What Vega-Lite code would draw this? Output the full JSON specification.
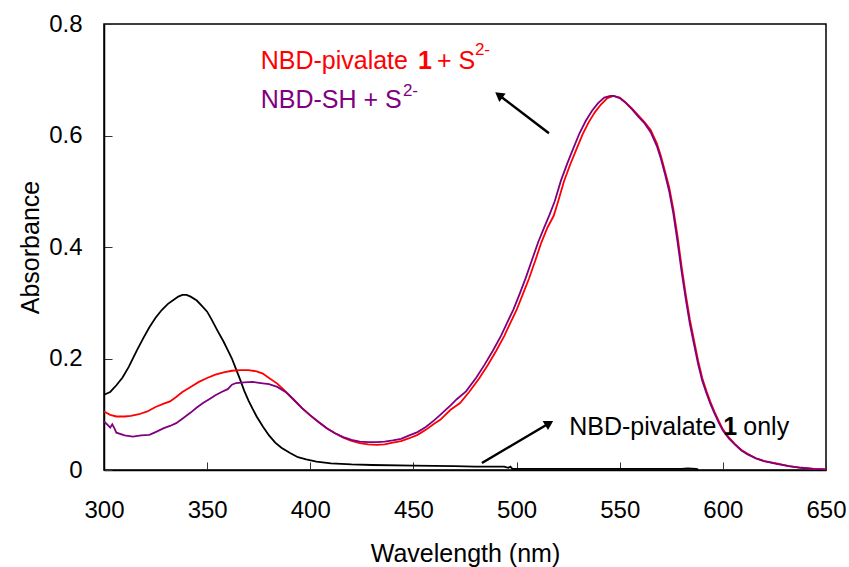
{
  "$schema": "https://vega.github.io/schema/vega-lite/v6.json",
  "width": 722,
  "height": 446,
  "autosize": "none",
  "padding": {"left": 104, "top": 24, "right": 23, "bottom": 97},
  "background": "white",
  "config": {
    "view": {"stroke": "black", "strokeWidth": 1.5},
    "font": "Liberation Sans",
    "axis": {
      "grid": false,
      "labelFlush": false,
      "domainColor": "black",
      "domainWidth": 1.5,
      "tickColor": "#333333",
      "tickWidth": 1,
      "tickSize": -8,
      "labelFont": "Liberation Sans",
      "labelFontSize": 24,
      "labelColor": "black",
      "titleFont": "Liberation Sans",
      "titleFontSize": 25,
      "titleFontWeight": "normal",
      "titleColor": "black"
    }
  },
  "datasets": {
    "curves": [
      {"series": "only", "wl": 300, "a": 0.135}, {"series": "only", "wl": 303, "a": 0.140}, {"series": "only", "wl": 306, "a": 0.152}, {"series": "only", "wl": 309, "a": 0.166}, {"series": "only", "wl": 312, "a": 0.185}, {"series": "only", "wl": 316, "a": 0.215}, {"series": "only", "wl": 319, "a": 0.236}, {"series": "only", "wl": 322, "a": 0.256}, {"series": "only", "wl": 325, "a": 0.273}, {"series": "only", "wl": 328, "a": 0.287}, {"series": "only", "wl": 331, "a": 0.298}, {"series": "only", "wl": 334, "a": 0.306}, {"series": "only", "wl": 336, "a": 0.311}, {"series": "only", "wl": 338, "a": 0.314}, {"series": "only", "wl": 340, "a": 0.314}, {"series": "only", "wl": 342, "a": 0.311}, {"series": "only", "wl": 345, "a": 0.304}, {"series": "only", "wl": 348, "a": 0.292}, {"series": "only", "wl": 350, "a": 0.284}, {"series": "only", "wl": 352, "a": 0.271}, {"series": "only", "wl": 355, "a": 0.250}, {"series": "only", "wl": 358, "a": 0.230}, {"series": "only", "wl": 360, "a": 0.215}, {"series": "only", "wl": 362, "a": 0.200}, {"series": "only", "wl": 364, "a": 0.181}, {"series": "only", "wl": 366, "a": 0.162}, {"series": "only", "wl": 368, "a": 0.142}, {"series": "only", "wl": 370, "a": 0.125}, {"series": "only", "wl": 372, "a": 0.110}, {"series": "only", "wl": 374, "a": 0.096}, {"series": "only", "wl": 377, "a": 0.078}, {"series": "only", "wl": 380, "a": 0.062}, {"series": "only", "wl": 383, "a": 0.049}, {"series": "only", "wl": 386, "a": 0.040}, {"series": "only", "wl": 390, "a": 0.031}, {"series": "only", "wl": 394, "a": 0.023}, {"series": "only", "wl": 398, "a": 0.019}, {"series": "only", "wl": 403, "a": 0.015}, {"series": "only", "wl": 410, "a": 0.012}, {"series": "only", "wl": 420, "a": 0.010}, {"series": "only", "wl": 430, "a": 0.009}, {"series": "only", "wl": 450, "a": 0.008}, {"series": "only", "wl": 470, "a": 0.007}, {"series": "only", "wl": 480, "a": 0.006}, {"series": "only", "wl": 494, "a": 0.006}, {"series": "only", "wl": 496, "a": 0.004}, {"series": "only", "wl": 497, "a": 0.006}, {"series": "only", "wl": 498, "a": 0.002}, {"series": "only", "wl": 520, "a": 0.002}, {"series": "only", "wl": 560, "a": 0.002}, {"series": "only", "wl": 580, "a": 0.002}, {"series": "only", "wl": 583, "a": 0.003}, {"series": "only", "wl": 587, "a": 0.002}, {"series": "only", "wl": 588, "a": 0.001},

      {"series": "plus", "wl": 300, "a": 0.105}, {"series": "plus", "wl": 303, "a": 0.099}, {"series": "plus", "wl": 306, "a": 0.096}, {"series": "plus", "wl": 310, "a": 0.096}, {"series": "plus", "wl": 313, "a": 0.097}, {"series": "plus", "wl": 317, "a": 0.100}, {"series": "plus", "wl": 321, "a": 0.105}, {"series": "plus", "wl": 325, "a": 0.113}, {"series": "plus", "wl": 329, "a": 0.119}, {"series": "plus", "wl": 332, "a": 0.123}, {"series": "plus", "wl": 335, "a": 0.131}, {"series": "plus", "wl": 338, "a": 0.140}, {"series": "plus", "wl": 342, "a": 0.149}, {"series": "plus", "wl": 346, "a": 0.158}, {"series": "plus", "wl": 350, "a": 0.165}, {"series": "plus", "wl": 354, "a": 0.171}, {"series": "plus", "wl": 358, "a": 0.175}, {"series": "plus", "wl": 362, "a": 0.178}, {"series": "plus", "wl": 366, "a": 0.179}, {"series": "plus", "wl": 370, "a": 0.179}, {"series": "plus", "wl": 374, "a": 0.177}, {"series": "plus", "wl": 377, "a": 0.173}, {"series": "plus", "wl": 380, "a": 0.165}, {"series": "plus", "wl": 384, "a": 0.155}, {"series": "plus", "wl": 388, "a": 0.141}, {"series": "plus", "wl": 392, "a": 0.126}, {"series": "plus", "wl": 396, "a": 0.111}, {"series": "plus", "wl": 400, "a": 0.098}, {"series": "plus", "wl": 404, "a": 0.086}, {"series": "plus", "wl": 408, "a": 0.075}, {"series": "plus", "wl": 412, "a": 0.066}, {"series": "plus", "wl": 416, "a": 0.058}, {"series": "plus", "wl": 420, "a": 0.052}, {"series": "plus", "wl": 424, "a": 0.048}, {"series": "plus", "wl": 428, "a": 0.046}, {"series": "plus", "wl": 432, "a": 0.045}, {"series": "plus", "wl": 436, "a": 0.046}, {"series": "plus", "wl": 440, "a": 0.049}, {"series": "plus", "wl": 444, "a": 0.052}, {"series": "plus", "wl": 448, "a": 0.057}, {"series": "plus", "wl": 452, "a": 0.063}, {"series": "plus", "wl": 456, "a": 0.072}, {"series": "plus", "wl": 460, "a": 0.083}, {"series": "plus", "wl": 463, "a": 0.090}, {"series": "plus", "wl": 468, "a": 0.108}, {"series": "plus", "wl": 472.6, "a": 0.120}, {"series": "plus", "wl": 477, "a": 0.140}, {"series": "plus", "wl": 482, "a": 0.165}, {"series": "plus", "wl": 486, "a": 0.188}, {"series": "plus", "wl": 490, "a": 0.213}, {"series": "plus", "wl": 494, "a": 0.240}, {"series": "plus", "wl": 497, "a": 0.264}, {"series": "plus", "wl": 500, "a": 0.287}, {"series": "plus", "wl": 503, "a": 0.315}, {"series": "plus", "wl": 506, "a": 0.343}, {"series": "plus", "wl": 509, "a": 0.375}, {"series": "plus", "wl": 512, "a": 0.408}, {"series": "plus", "wl": 515, "a": 0.435}, {"series": "plus", "wl": 518, "a": 0.456}, {"series": "plus", "wl": 520, "a": 0.480}, {"series": "plus", "wl": 523, "a": 0.518}, {"series": "plus", "wl": 526, "a": 0.548}, {"series": "plus", "wl": 529, "a": 0.575}, {"series": "plus", "wl": 532, "a": 0.602}, {"series": "plus", "wl": 535, "a": 0.624}, {"series": "plus", "wl": 538, "a": 0.642}, {"series": "plus", "wl": 541, "a": 0.656}, {"series": "plus", "wl": 544, "a": 0.667}, {"series": "plus", "wl": 547, "a": 0.671}, {"series": "plus", "wl": 550, "a": 0.668}, {"series": "plus", "wl": 553, "a": 0.659}, {"series": "plus", "wl": 556, "a": 0.648}, {"series": "plus", "wl": 559, "a": 0.636}, {"series": "plus", "wl": 562, "a": 0.624}, {"series": "plus", "wl": 565, "a": 0.610}, {"series": "plus", "wl": 568, "a": 0.586}, {"series": "plus", "wl": 570, "a": 0.563}, {"series": "plus", "wl": 572, "a": 0.535}, {"series": "plus", "wl": 574, "a": 0.507}, {"series": "plus", "wl": 576, "a": 0.468}, {"series": "plus", "wl": 578, "a": 0.420}, {"series": "plus", "wl": 580, "a": 0.365}, {"series": "plus", "wl": 582, "a": 0.315}, {"series": "plus", "wl": 584, "a": 0.270}, {"series": "plus", "wl": 586, "a": 0.233}, {"series": "plus", "wl": 588, "a": 0.196}, {"series": "plus", "wl": 590, "a": 0.165}, {"series": "plus", "wl": 592, "a": 0.142}, {"series": "plus", "wl": 594, "a": 0.122}, {"series": "plus", "wl": 596, "a": 0.104}, {"series": "plus", "wl": 598, "a": 0.088}, {"series": "plus", "wl": 600, "a": 0.073}, {"series": "plus", "wl": 603, "a": 0.058}, {"series": "plus", "wl": 606, "a": 0.046}, {"series": "plus", "wl": 609, "a": 0.036}, {"series": "plus", "wl": 612, "a": 0.029}, {"series": "plus", "wl": 616, "a": 0.021}, {"series": "plus", "wl": 620, "a": 0.016}, {"series": "plus", "wl": 626, "a": 0.012}, {"series": "plus", "wl": 632, "a": 0.007}, {"series": "plus", "wl": 638, "a": 0.004}, {"series": "plus", "wl": 644, "a": 0.002}, {"series": "plus", "wl": 650, "a": 0.001},

      {"series": "SH", "wl": 300, "a": 0.087}, {"series": "SH", "wl": 302, "a": 0.080}, {"series": "SH", "wl": 303, "a": 0.076}, {"series": "SH", "wl": 304, "a": 0.082}, {"series": "SH", "wl": 305, "a": 0.075}, {"series": "SH", "wl": 306, "a": 0.067}, {"series": "SH", "wl": 310, "a": 0.062}, {"series": "SH", "wl": 314, "a": 0.060}, {"series": "SH", "wl": 318, "a": 0.062}, {"series": "SH", "wl": 322, "a": 0.063}, {"series": "SH", "wl": 325, "a": 0.068}, {"series": "SH", "wl": 329, "a": 0.075}, {"series": "SH", "wl": 332, "a": 0.079}, {"series": "SH", "wl": 335, "a": 0.084}, {"series": "SH", "wl": 338, "a": 0.092}, {"series": "SH", "wl": 342, "a": 0.103}, {"series": "SH", "wl": 345, "a": 0.112}, {"series": "SH", "wl": 348, "a": 0.120}, {"series": "SH", "wl": 351, "a": 0.127}, {"series": "SH", "wl": 354, "a": 0.134}, {"series": "SH", "wl": 357, "a": 0.140}, {"series": "SH", "wl": 360, "a": 0.145}, {"series": "SH", "wl": 362, "a": 0.153}, {"series": "SH", "wl": 364, "a": 0.156}, {"series": "SH", "wl": 368, "a": 0.157}, {"series": "SH", "wl": 372, "a": 0.158}, {"series": "SH", "wl": 376, "a": 0.156}, {"series": "SH", "wl": 380, "a": 0.154}, {"series": "SH", "wl": 384, "a": 0.149}, {"series": "SH", "wl": 388, "a": 0.140}, {"series": "SH", "wl": 392, "a": 0.126}, {"series": "SH", "wl": 396, "a": 0.111}, {"series": "SH", "wl": 400, "a": 0.098}, {"series": "SH", "wl": 404, "a": 0.086}, {"series": "SH", "wl": 408, "a": 0.075}, {"series": "SH", "wl": 412, "a": 0.066}, {"series": "SH", "wl": 416, "a": 0.059}, {"series": "SH", "wl": 420, "a": 0.054}, {"series": "SH", "wl": 424, "a": 0.051}, {"series": "SH", "wl": 428, "a": 0.050}, {"series": "SH", "wl": 432, "a": 0.050}, {"series": "SH", "wl": 436, "a": 0.051}, {"series": "SH", "wl": 440, "a": 0.053}, {"series": "SH", "wl": 444, "a": 0.056}, {"series": "SH", "wl": 448, "a": 0.062}, {"series": "SH", "wl": 452, "a": 0.068}, {"series": "SH", "wl": 456, "a": 0.077}, {"series": "SH", "wl": 460, "a": 0.089}, {"series": "SH", "wl": 463, "a": 0.099}, {"series": "SH", "wl": 468, "a": 0.116}, {"series": "SH", "wl": 471, "a": 0.127}, {"series": "SH", "wl": 475.5, "a": 0.141}, {"series": "SH", "wl": 480.5, "a": 0.166}, {"series": "SH", "wl": 484.5, "a": 0.189}, {"series": "SH", "wl": 488.5, "a": 0.214}, {"series": "SH", "wl": 492.5, "a": 0.241}, {"series": "SH", "wl": 495.5, "a": 0.265}, {"series": "SH", "wl": 498.5, "a": 0.288}, {"series": "SH", "wl": 501.5, "a": 0.316}, {"series": "SH", "wl": 504.5, "a": 0.345}, {"series": "SH", "wl": 507.5, "a": 0.377}, {"series": "SH", "wl": 510.5, "a": 0.409}, {"series": "SH", "wl": 513.5, "a": 0.436}, {"series": "SH", "wl": 516, "a": 0.458}, {"series": "SH", "wl": 518.5, "a": 0.482}, {"series": "SH", "wl": 521.5, "a": 0.519}, {"series": "SH", "wl": 524.5, "a": 0.549}, {"series": "SH", "wl": 527.5, "a": 0.577}, {"series": "SH", "wl": 530.5, "a": 0.604}, {"series": "SH", "wl": 533.5, "a": 0.626}, {"series": "SH", "wl": 536.5, "a": 0.644}, {"series": "SH", "wl": 539.5, "a": 0.658}, {"series": "SH", "wl": 542.5, "a": 0.668}, {"series": "SH", "wl": 545.5, "a": 0.671}, {"series": "SH", "wl": 547, "a": 0.671}, {"series": "SH", "wl": 550, "a": 0.667}, {"series": "SH", "wl": 553, "a": 0.658}, {"series": "SH", "wl": 556, "a": 0.647}, {"series": "SH", "wl": 559, "a": 0.634}, {"series": "SH", "wl": 562, "a": 0.622}, {"series": "SH", "wl": 565, "a": 0.606}, {"series": "SH", "wl": 568, "a": 0.581}, {"series": "SH", "wl": 570, "a": 0.558}, {"series": "SH", "wl": 572, "a": 0.530}, {"series": "SH", "wl": 574, "a": 0.500}, {"series": "SH", "wl": 576, "a": 0.460}, {"series": "SH", "wl": 578, "a": 0.410}, {"series": "SH", "wl": 580, "a": 0.356}, {"series": "SH", "wl": 582, "a": 0.307}, {"series": "SH", "wl": 584, "a": 0.262}, {"series": "SH", "wl": 586, "a": 0.226}, {"series": "SH", "wl": 588, "a": 0.190}, {"series": "SH", "wl": 590, "a": 0.160}, {"series": "SH", "wl": 592, "a": 0.138}, {"series": "SH", "wl": 594, "a": 0.118}, {"series": "SH", "wl": 596, "a": 0.101}, {"series": "SH", "wl": 598, "a": 0.085}, {"series": "SH", "wl": 600, "a": 0.071}, {"series": "SH", "wl": 603, "a": 0.056}, {"series": "SH", "wl": 606, "a": 0.045}, {"series": "SH", "wl": 609, "a": 0.035}, {"series": "SH", "wl": 612, "a": 0.028}, {"series": "SH", "wl": 616, "a": 0.021}, {"series": "SH", "wl": 620, "a": 0.016}, {"series": "SH", "wl": 626, "a": 0.011}, {"series": "SH", "wl": 632, "a": 0.007}, {"series": "SH", "wl": 638, "a": 0.004}, {"series": "SH", "wl": 644, "a": 0.002}, {"series": "SH", "wl": 650, "a": 0.001}
    ],
    "labels": [
      {"series": "plus", "wl": 375.96, "a": 0.7187, "label": "NBD-pivalate"},
      {"series": "plus", "wl": 461.4, "a": 0.7187, "label": "+ S"},
      {"series": "SH", "wl": 375.96, "a": 0.6488, "label": "NBD-SH + S"},
      {"series": "only", "wl": 525.5, "a": 0.0628, "label": "NBD-pivalate"},
      {"series": "only", "wl": 609.9, "a": 0.0628, "label": "only"}
    ],
    "boldLabels": [
      {"series": "plus", "wl": 452.2, "a": 0.7187, "label": "1"},
      {"series": "only", "wl": 600.2, "a": 0.0628, "label": "1"}
    ],
    "supLabels": [
      {"series": "plus", "wl": 479.8, "a": 0.7435, "label": "2-"},
      {"series": "SH", "wl": 444.9, "a": 0.6717, "label": "2-"}
    ],
    "arrows": [
      {"id": "up", "wl": 515.7, "a": 0.604, "wl2": 492.0, "a2": 0.671},
      {"id": "down", "wl": 483.2, "a": 0.0126, "wl2": 515.2, "a2": 0.0825}
    ]
  },
  "encoding": {
    "x": {"type": "quantitative", "scale": {"domain": [300, 650], "nice": false, "zero": false}},
    "y": {"type": "quantitative", "scale": {"domain": [0, 0.8], "nice": false}}
  },
  "layer": [
    {
      "data": {"name": "curves"},
      "mark": {"type": "line", "strokeWidth": 1.8, "interpolate": "linear"},
      "encoding": {
        "x": {"field": "wl", "type": "quantitative",
          "axis": {"values": [300, 350, 400, 450, 500, 550, 600, 650], "labelFlush": false, "labelPadding": 36, "title": "Wavelength (nm)", "titleX": 361, "titleY": 91, "titleBaseline": "alphabetic", "titleAnchor": "middle", "titleAlign": "center"}},
        "y": {"field": "a", "type": "quantitative",
          "axis": {"values": [0, 0.2, 0.4, 0.6, 0.8], "labelFlush": false, "labelExpr": "datum.value == 0 ? '0' : format(datum.value, '.1f')", "labelPadding": 30, "title": "Absorbance", "titleX": -74, "titleY": 223, "titleAngle": -90, "titleBaseline": "middle", "titleAlign": "center"}},
        "color": {"field": "series", "type": "nominal", "scale": {"domain": ["plus", "SH", "only"], "range": ["#FF0000", "#800080", "#000000"]}, "legend": null},
        "detail": {"field": "series"},
        "order": {"field": "wl", "type": "quantitative"}
      }
    },
    {
      "data": {"name": "labels"},
      "mark": {"type": "text", "font": "Liberation Sans", "fontSize": 25, "align": "left", "baseline": "alphabetic"},
      "encoding": {
        "x": {"field": "wl", "type": "quantitative"},
        "y": {"field": "a", "type": "quantitative"},
        "text": {"field": "label"},
        "color": {"field": "series", "type": "nominal", "legend": null}
      }
    },
    {
      "data": {"name": "boldLabels"},
      "mark": {"type": "text", "font": "Liberation Sans", "fontSize": 25, "fontWeight": "bold", "align": "left", "baseline": "alphabetic"},
      "encoding": {
        "x": {"field": "wl", "type": "quantitative"},
        "y": {"field": "a", "type": "quantitative"},
        "text": {"field": "label"},
        "color": {"field": "series", "type": "nominal", "legend": null}
      }
    },
    {
      "data": {"name": "supLabels"},
      "mark": {"type": "text", "font": "Liberation Sans", "fontSize": 17, "align": "left", "baseline": "alphabetic"},
      "encoding": {
        "x": {"field": "wl", "type": "quantitative"},
        "y": {"field": "a", "type": "quantitative"},
        "text": {"field": "label"},
        "color": {"field": "series", "type": "nominal", "legend": null}
      }
    },
    {
      "data": {"name": "arrows"},
      "mark": {"type": "rule", "color": "black", "strokeWidth": 2.5},
      "encoding": {
        "x": {"field": "wl", "type": "quantitative"},
        "y": {"field": "a", "type": "quantitative"},
        "x2": {"field": "wl2"},
        "y2": {"field": "a2"}
      }
    },
    {
      "data": {"name": "arrows"},
      "transform": [{"filter": "datum.id == 'up'"}],
      "mark": {"type": "point", "shape": "triangle", "filled": true, "color": "black", "size": 110, "angle": 307, "opacity": 1},
      "encoding": {
        "x": {"field": "wl2", "type": "quantitative"},
        "y": {"field": "a2", "type": "quantitative"}
      }
    },
    {
      "data": {"name": "arrows"},
      "transform": [{"filter": "datum.id == 'down'"}],
      "mark": {"type": "point", "shape": "triangle", "filled": true, "color": "black", "size": 110, "angle": 59, "opacity": 1},
      "encoding": {
        "x": {"field": "wl2", "type": "quantitative"},
        "y": {"field": "a2", "type": "quantitative"}
      }
    }
  ]
}
